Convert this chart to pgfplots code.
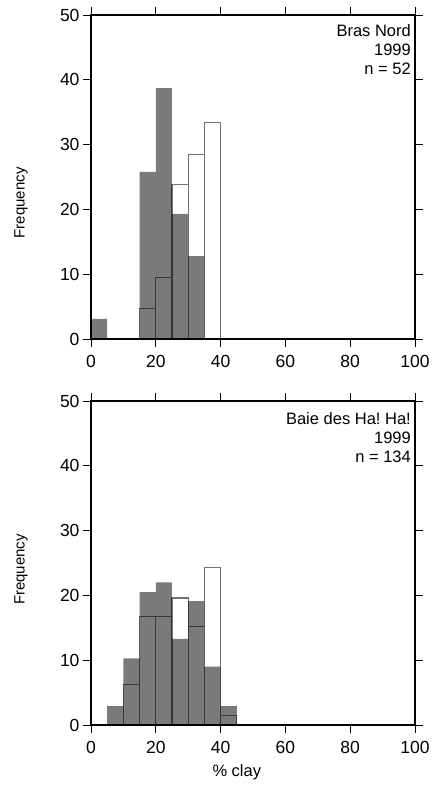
\documentclass[border=0pt]{standalone}
\usepackage{fontspec}
\setmainfont{Liberation Sans}
\usepackage{pgfplots}
\pgfplotsset{compat=1.18}
\frenchspacing

\definecolor{barfill}{RGB}{122,122,122}

\tikzset{
  annot/.style={anchor=north east, align=right, inner sep=0pt,
    font=\fontsize{16.5bp}{19bp}\selectfont},
}

\pgfplotsset{
  histo/.style={
    scale only axis, width=324bp, height=324bp,
    xmin=0, xmax=100, ymin=0, ymax=50,
    xtick={0,20,...,100}, ytick={0,10,...,50},
    tick align=outside, major tick length=8bp,
    axis line style={line width=1.6bp},
    every tick/.style={black, line width=0.8bp},
    tick label style={font=\fontsize{17.5bp}{20bp}\selectfont},
    xticklabel style={yshift=-5bp},
    /pgf/number format/assume math mode=true,
    axis on top,
    ylabel={Frequency},
    ylabel style={font=\fontsize{15bp}{18bp}\selectfont, anchor=center, rotate=0},
  },
  grayhist/.style={ybar interval, fill=barfill, draw=none},
  outhist/.style={ybar interval, fill=none, draw=black, draw opacity=0.55, line width=1.1bp},
}

\begin{document}
\begin{tikzpicture}
\path[use as bounding box] (-91bp,339bp) rectangle (346bp,-448bp);

% upper panel
\begin{axis}[histo, at={(0,0)},
  ylabel style={at={(axis description cs:-0.216,0.42)}}]
\addplot[grayhist] coordinates {
  (0,3.1) (5,0) (10,0) (15,25.8) (20,38.7) (25,19.3) (30,12.8) (35,12.8)
};
\addplot[outhist] coordinates {
  (15,4.7) (20,9.5) (25,23.9) (30,28.5) (35,33.4) (40,33.4)
};
\node[annot] at (rel axis cs:1,1) [xshift=-4bp, yshift=-9bp] {Bras Nord\\1999\\n = 52};
\end{axis}

% lower panel
\begin{axis}[histo, at={(0,-386bp)},
  ylabel style={at={(axis description cs:-0.216,0.48)}},
  xlabel={\% clay},
  xlabel style={font=\fontsize{16.5bp}{19bp}\selectfont, anchor=base,
    at={(axis description cs:0.45,-0.16)}}]
\addplot[grayhist] coordinates {
  (5,2.9) (10,10.3) (15,20.5) (20,22.0) (25,13.3) (30,19.1) (35,9.0) (40,2.9) (45,2.9)
};
\addplot[outhist] coordinates {
  (10,6.2) (15,16.7) (20,16.7) (25,19.6) (30,15.2) (35,24.3) (40,1.5) (45,1.5)
};
\node[annot] at (rel axis cs:1,1) [xshift=-4bp, yshift=-11bp] {Baie des Ha! Ha!\\1999\\n = 134};
\end{axis}
\end{tikzpicture}
\end{document}
